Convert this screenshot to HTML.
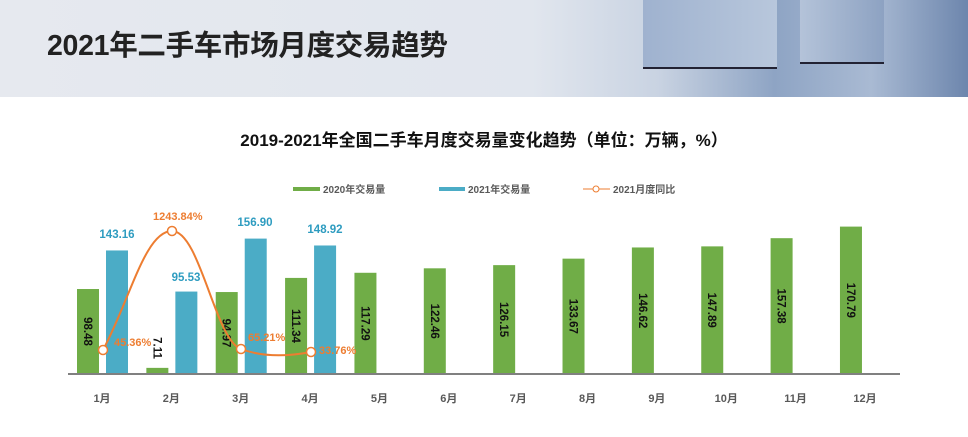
<!DOCTYPE html>
<html><head><meta charset="utf-8"><style>
body{margin:0;width:968px;height:437px;overflow:hidden;background:#fff;font-family:"Liberation Sans","Noto Sans CJK SC",sans-serif}
.hdr{position:absolute;left:0;top:0;width:968px;height:97px;background:linear-gradient(90deg,#e6e9ef 0%,#e1e6ee 55%,#c9d3e2 68%,#8ea4c4 80%,#a9bad3 90%,#6d86ad 100%)}
.h1{position:absolute;left:47px;top:23px;font-size:28.5px;font-weight:bold;color:#222;letter-spacing:-0.3px}
svg{position:absolute;left:0;top:0}
</style></head><body>
<div class="hdr">
<div style="position:absolute;left:643px;top:0;width:134px;height:67px;background:linear-gradient(90deg,#9fb2cf,#b8c7dc);border-bottom:2px solid #223"></div>
<div style="position:absolute;left:800px;top:0;width:84px;height:62px;background:linear-gradient(90deg,#b4c3d9,#8da2c2);border-bottom:2px solid #223"></div>
</div>
<div class="h1">2021年二手车市场月度交易趋势</div>
<svg width="968" height="437" font-family="Liberation Sans, Noto Sans CJK SC, sans-serif">
<text x="484" y="146" text-anchor="middle" font-size="17" font-weight="bold" fill="#111">2019-2021年全国二手车月度交易量变化趋势（单位：万辆，%）</text>
<rect x="293" y="187" width="27" height="4" fill="#70ad47"/><text x="323" y="193" font-size="10" font-weight="bold" fill="#595959">2020年交易量</text>
<rect x="439" y="187" width="26" height="4" fill="#4bacc6"/><text x="468" y="193" font-size="10" font-weight="bold" fill="#595959">2021年交易量</text>
<line x1="583" y1="189" x2="610" y2="189" stroke="#ed7d31"/><circle cx="596" cy="189" r="3" fill="#fff" stroke="#ed7d31"/><text x="613" y="193" font-size="10" font-weight="bold" fill="#595959">2021月度同比</text>
<g id="bars"></g>
<line x1="68" y1="374" x2="900" y2="374" stroke="#808080" stroke-width="2"/>
<path d="M103,350 C130,300 145,231 172,231 C200,231 215,340 241,349 C265,358 290,356 311,352" fill="none" stroke="#ed7d31" stroke-width="2"/>
<g fill="#fff" stroke="#ed7d31" stroke-width="1.5"><circle cx="103" cy="350" r="4.5"/><circle cx="172" cy="231" r="4.5"/><circle cx="241" cy="349" r="4.5"/><circle cx="311" cy="352" r="4.5"/></g>
<g font-size="11" font-weight="bold" fill="#ed7d31"><text x="114" y="346">45.36%</text><text x="153" y="220">1243.84%</text><text x="248" y="341">65.21%</text><text x="319" y="354">33.76%</text></g>
<g font-size="11.5" font-weight="bold" fill="#2e9cc0" text-anchor="middle"><text x="117" y="238">143.16</text><text x="186" y="281">95.53</text><text x="255" y="226">156.90</text><text x="325" y="233">148.92</text></g>
</svg>
<script>
var g=[98.48,7.11,94.97,111.34,117.29,122.46,126.15,133.67,146.62,147.89,157.38,170.79],b=[143.16,95.53,156.90,148.92],s="",k=0.863;
for(var i=0;i<12;i++){var x=77+69.36*i,h=g[i]*k,y=374-h;s+='<rect x="'+x+'" y="'+y+'" width="22" height="'+h+'" fill="#70ad47"/>';
var cy=i==1?348:(y+374)/2;s+='<text transform="translate('+(x+11)+','+cy+') rotate(90)" text-anchor="middle" dy="4" font-size="11.5" font-weight="bold" fill="#111">'+g[i].toFixed(2)+'</text>';
s+='<text x="'+(x+25)+'" y="402" text-anchor="middle" font-size="11" font-weight="bold" fill="#595959">'+(i+1)+'月</text>';
if(i<4){var hb=b[i]*k;s+='<rect x="'+(x+29)+'" y="'+(374-hb)+'" width="22" height="'+hb+'" fill="#4bacc6"/>';}}
document.getElementById('bars').innerHTML=s;
</script>
</body></html>
